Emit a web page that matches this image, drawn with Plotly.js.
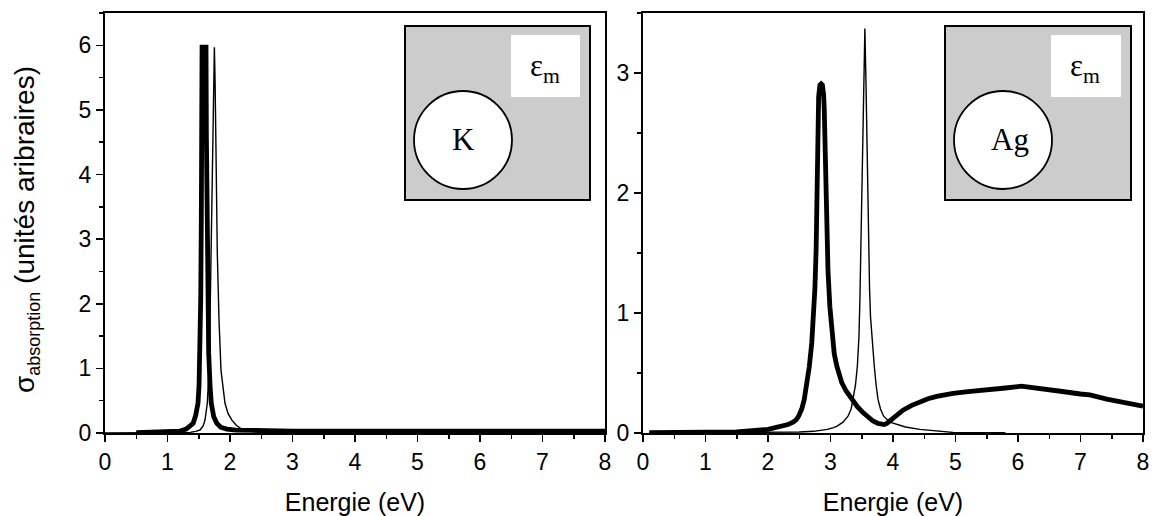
<!DOCTYPE html>
<html><head><meta charset="utf-8">
<script src="https://cdn.plot.ly/plotly-3.0.1.min.js"></script>
<style>html,body{margin:0;padding:0;background:#fff}#chart{width:1153px;height:516px}</style>
</head><body><div id="chart"></div>
<script>
// ---- Data ----
// Left panel: potassium (K)
const kThickX = [0.5,0.8,1.0,1.1,1.2,1.3,1.36,1.41,1.45,1.488,1.505,1.52,1.532,1.541,1.548,1.553,1.585,1.616,1.622,1.632,1.645,1.659,1.68,1.70,1.74,1.79,1.85,1.95,2.1,2.4,3,4,5,6,7,8];
const kThickY = [0.005,0.01,0.015,0.02,0.03,0.06,0.1,0.15,0.27,0.46,0.75,1.24,2.1,3.29,4.6,5.97,5.97,5.97,4.6,3.29,2.1,1.24,0.75,0.46,0.25,0.15,0.09,0.06,0.045,0.035,0.03,0.03,0.03,0.03,0.03,0.03];
const kThinX = [0,0.5,1.0,1.2,1.36,1.45,1.52,1.57,1.60,1.637,1.664,1.68,1.696,1.717,1.73,1.74,1.75,1.762,1.776,1.797,1.824,1.856,1.92,1.97,2.03,2.1,2.21,2.4,2.59,3,4,5,6,7,8];
const kThinY = [0,0.002,0.005,0.007,0.01,0.025,0.046,0.11,0.20,0.46,0.97,1.75,2.78,4.32,5.4,5.97,5.97,5.4,4.32,2.78,1.75,0.97,0.46,0.30,0.20,0.12,0.046,0.02,0.01,0.008,0.006,0.005,0.005,0.005,0.005];
// Right panel: silver (Ag)
const agThickX = [0.1,0.5,1.0,1.5,2.0,2.24,2.32,2.40,2.45,2.49,2.54,2.58,2.62,2.66,2.70,2.73,2.75,2.77,2.78,2.795,2.81,2.83,2.85,2.87,2.89,2.90,2.915,2.93,2.96,2.99,3.02,3.06,3.10,3.14,3.18,3.25,3.34,3.43,3.52,3.60,3.68,3.76,3.82,3.86,3.90,3.95,4.0,4.08,4.16,4.3,4.43,4.56,4.70,4.83,4.96,5.2,5.5,5.8,6.05,6.35,6.65,7.0,7.15,7.42,7.68,8.0];
const agThickY = [0.002,0.004,0.006,0.01,0.03,0.055,0.07,0.09,0.11,0.14,0.20,0.28,0.40,0.55,0.75,0.97,1.2,1.53,1.9,2.4,2.8,2.9,2.91,2.9,2.82,2.7,2.3,1.9,1.35,1.05,0.82,0.66,0.56,0.48,0.42,0.35,0.28,0.22,0.17,0.13,0.10,0.08,0.07,0.07,0.08,0.10,0.125,0.16,0.19,0.23,0.26,0.285,0.305,0.32,0.33,0.345,0.355,0.375,0.39,0.375,0.35,0.325,0.317,0.283,0.253,0.223];
const agThinX = [0.1,1,2,2.5,2.73,2.95,3.05,3.10,3.2,3.28,3.33,3.36,3.40,3.43,3.455,3.47,3.49,3.51,3.53,3.55,3.57,3.59,3.61,3.625,3.64,3.67,3.70,3.73,3.76,3.80,3.85,3.95,4.06,4.2,4.43,4.7,4.96,5.4,5.8];
const agThinY = [0,0.001,0.005,0.008,0.014,0.03,0.045,0.055,0.09,0.14,0.20,0.28,0.40,0.56,0.8,1.1,1.6,2.2,2.85,3.37,2.85,2.2,1.6,1.2,0.97,0.72,0.56,0.40,0.28,0.20,0.14,0.09,0.07,0.05,0.03,0.015,0.005,0.003,0.002];

const xTitle = 'Energie (eV)';
const yTitle = 'σ<sub><span style="font-size:18px">absorption</span></sub> (unités aribraires)';
const leftInsetLabel = 'K';
const rightInsetLabel = 'Ag';
const mediumLabel = 'ε<sub>m</sub>';

// ---- Layout helpers (pixel -> paper) ----
const W = 1153, H = 516;
const px = v => v / W;
const py = v => 1 - v / H;
const SANS = 'Liberation Sans, Arial, sans-serif';
const SERIF = 'Liberation Serif, Times New Roman, serif';

function mainAxis(domain, range, extra) {
  return Object.assign({
    domain: domain, range: range, dtick: 1, tick0: 0,
    ticks: 'outside', ticklen: 7, tickwidth: 1.5, tickcolor: '#000',
    showline: true, linecolor: '#000', linewidth: 2, mirror: true,
    showgrid: false, zeroline: false, fixedrange: true,
    tickfont: {family: SANS, size: 23, color: '#000'},
    minor: {dtick: 0.5, ticks: 'outside', ticklen: 4, tickwidth: 1.5, tickcolor: '#000', showgrid: false},
    automargin: false
  }, extra || {});
}
const xTitleObj = {text: xTitle, font: {family: SANS, size: 25, color: '#000'}};

const thick = {color: '#000', width: 4.8};
const thin = {color: '#000', width: 1.4};

const traces = [
  {x: kThinX, y: kThinY, xaxis: 'x', yaxis: 'y', mode: 'lines', line: thin, name: 'K (thin)'},
  {x: kThickX, y: kThickY, xaxis: 'x', yaxis: 'y', mode: 'lines', line: thick, name: 'K (thick)'},
  {x: agThinX, y: agThinY, xaxis: 'x2', yaxis: 'y2', mode: 'lines', line: thin, name: 'Ag (thin)'},
  {x: agThickX, y: agThickY, xaxis: 'x2', yaxis: 'y2', mode: 'lines', line: thick, name: 'Ag (thick)'}
];

// inset geometry in pixels
function inset(box, white, circ) {
  return [
    {type: 'rect', xref: 'paper', yref: 'paper', x0: px(box[0]), x1: px(box[2]), y0: py(box[3]), y1: py(box[1]),
     fillcolor: '#cccccc', line: {color: '#000', width: 2}, layer: 'above'},
    {type: 'rect', xref: 'paper', yref: 'paper', x0: px(white[0]), x1: px(white[2]), y0: py(white[3]), y1: py(white[1]),
     fillcolor: '#ffffff', line: {width: 0}, layer: 'above'},
    {type: 'circle', xref: 'paper', yref: 'paper', x0: px(circ[0]-circ[2]), x1: px(circ[0]+circ[2]), y0: py(circ[1]+circ[2]), y1: py(circ[1]-circ[2]),
     fillcolor: '#ffffff', line: {color: '#000', width: 1.8}, layer: 'above'}
  ];
}
const shapes = [].concat(
  inset([405, 26, 590, 200], [511, 35, 580, 97], [463, 140, 49]),
  inset([945, 26, 1131, 200], [1051, 35, 1121, 97], [1003, 140, 49])
);

const ann = (x, y, text, font, extra) => Object.assign({xref: 'paper', yref: 'paper', x: px(x), y: py(y), text: text,
  showarrow: false, xanchor: 'center', yanchor: 'middle', font: font}, extra || {});
const annotations = [
  ann(463, 139, leftInsetLabel, {family: SERIF, size: 31, color: '#000'}),
  ann(1010, 139, rightInsetLabel, {family: SERIF, size: 31, color: '#000'}),
  ann(545, 68, mediumLabel, {family: SERIF, size: 31, color: '#000'}),
  ann(1085, 68, mediumLabel, {family: SERIF, size: 31, color: '#000'}),
  ann(26, 230, yTitle, {family: SANS, size: 28, color: '#000'}, {textangle: -90})
];

const layout = {
  width: W, height: H, margin: {l: 0, r: 0, t: 0, b: 0},
  paper_bgcolor: '#fff', plot_bgcolor: 'rgba(0,0,0,0)', showlegend: false,
  xaxis: mainAxis([px(105), px(605)], [0, 8], {anchor: 'y', title: xTitleObj}),
  yaxis: mainAxis([py(433), py(13)], [0, 6.5], {anchor: 'x'}),
  xaxis2: mainAxis([px(643), px(1143)], [0, 8], {anchor: 'y2', title: xTitleObj}),
  yaxis2: mainAxis([py(433), py(13)], [0, 3.5], {anchor: 'x2'}),
  shapes: shapes, annotations: annotations
};

Plotly.newPlot('chart', traces, layout, {displayModeBar: false, staticPlot: true});
</script></body></html>
